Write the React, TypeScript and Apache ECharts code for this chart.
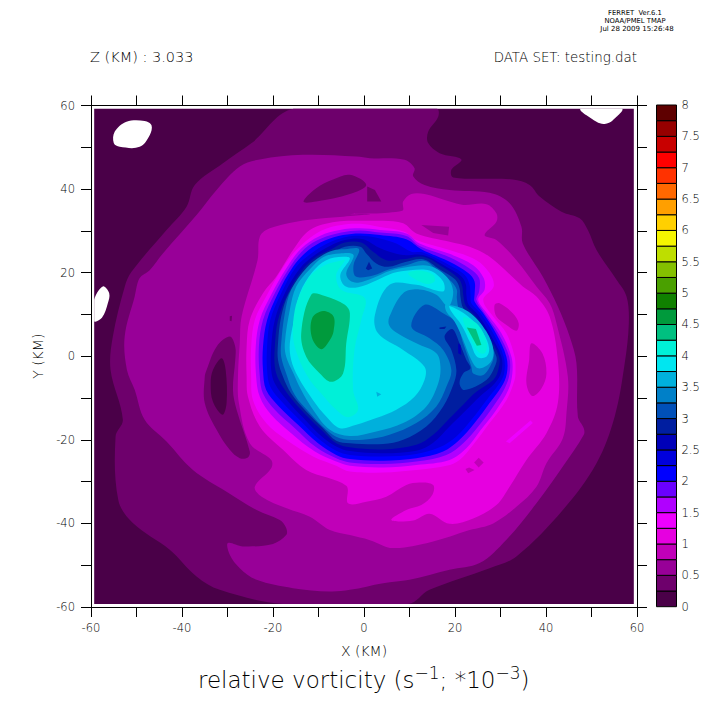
import React, { useEffect, useRef } from "react";
import * as echarts from "echarts";

type Pt = number[];

const xTicks = { min: -60, max: 60, interval: 10 };
const yTicks = { min: -60, max: 60, interval: 10 };
const barLevels = [0,0.25,0.5,0.75,1,1.25,1.5,1.75,2,2.25,2.5,2.75,3,3.25,3.5,3.75,4,4.25,4.5,4.75,5,5.25,5.5,5.75,6,6.25,6.5,6.75,7,7.25,7.5,7.75];
const barColors = ["#4a0048","#6e006c","#980098","#c000b8","#e600e0","#ee00ff","#b000ff","#6a00ff","#0000ff","#0000dc","#0000b8","#001ea0","#0050b8","#0080c8","#00b0dc","#00e6f0","#00f0d8","#00c080","#009a3c","#108000","#4aa000","#84c000","#bede00","#f5f500","#ffd000","#ff9f00","#ff6800","#ff3200","#ff0000","#c80000","#960000","#5e0000"];

// Filled-contour outlines (X km, Y km), one list per level of the field.
const frame: Pt[] = [[-59.3,59.2],[59.3,59.2],[59.3,-59.3],[-59.3,-59.3]];
const missingA: Pt[] = [[-55,51],[-54.8,53.7],[-52.2,56.1],[-48.2,56.3],[-46.7,55.3],[-47.1,52.9],[-49.3,50.1],[-53.7,50.1]];
const missingB: Pt[] = [[-59.3,13.5],[-57.4,16.7],[-56,15.1],[-56.3,12.7],[-57.6,9.2],[-59.3,8.4]];
const missingC: Pt[] = [[47.6,59.2],[51.1,56.1],[52.9,55.6],[54.7,56.5],[56.7,59.2]];

const c025: Pt[] = [[-15.5,59.2],[-24.7,51],[-31,46.2],[-37.2,41],[-39,35.8],[-43.4,30.2],[-51.1,20.2],[-52.6,16.6],[-55.2,4.7],[-55.7,-3.3],[-53,-15.2],[-54.6,-19.2],[-54,-34.4],[-50.8,-39.9],[-42.7,-46.3],[-36.8,-52.7],[-31.7,-55.9],[-17.8,-59.3],[9.7,-59.3],[14.4,-55.9],[27.6,-50.7],[33.5,-47.9],[43.7,-36.8],[51.1,-25.6],[55.1,-14.4],[57.3,-1.7],[58.2,7.9],[57.7,14.3],[55.5,18.3],[51.1,25.4],[49.2,30.2],[47.4,33],[43.4,34.6],[38.6,38.2],[36.4,41],[32.7,42.3],[19.6,42.8],[19.2,44.6],[21.4,47.1],[16.6,48.6],[14.1,51],[14.1,53.7],[16.3,57.3],[16,59.2]];

const c050: Pt[] = [[1.3,47.4],[-1.7,47.8],[-13.4,48.2],[-22.9,47.1],[-27.3,45.4],[-32.4,39.8],[-36.8,33.8],[-44.2,24.6],[-47.1,20.6],[-49.3,18.7],[-50.4,14.3],[-52.6,4.7],[-52.1,-3.3],[-50.4,-8],[-48.2,-15.2],[-43.4,-20.4],[-37.6,-27.2],[-30.2,-32.4],[-23.6,-36.8],[-18.5,-39.2],[-17.1,-41.1],[-17.1,-42.8],[-20,-44.9],[-26.6,-45.5],[-29.9,-44.7],[-29.5,-47.5],[-27.3,-50.7],[-23.6,-53.5],[-15.6,-55.5],[-7.5,-56.3],[-3.1,-55.9],[4.2,-54.3],[10,-53.5],[18.8,-51.1],[25.4,-49.5],[31.3,-43.9],[37.9,-35.2],[43.7,-26.4],[48.3,-18.8],[48.3,-17.2],[47,-14.4],[46.7,-1.7],[45.2,4.7],[42.6,11.9],[39.3,19],[34.9,27],[34.6,31],[32,36.6],[27.6,39.1],[18.8,39.8],[13.3,41],[10.8,43.1],[11.1,45],[8.9,47]];

const c075: Pt[] = [[1.3,34],[-9,33],[-14.9,32.2],[-20.7,30.6],[-22.9,28.6],[-23.4,23],[-26.9,9.5],[-27.3,3.2],[-27.7,-4.9],[-27.5,-11.2],[-25.1,-20.8],[-20.4,-24.8],[-20.4,-26.8],[-24,-31.2],[-22.5,-33.6],[-17,-36.4],[-11.9,-38.4],[-7.5,-41.6],[-3.1,-42.8],[1.3,-44],[6.4,-45.9],[15,-44.4],[23.2,-41.6],[28.4,-40],[33.5,-36],[37.9,-31.2],[40.1,-25.6],[43.7,-19.6],[44.5,-13.6],[44.8,-4.9],[42.3,7.9],[40.8,12.7],[37.9,16.7],[33.5,23],[29.1,27.8],[26.5,29],[29.1,32.2],[29.1,34.2],[26.9,36.4],[21.8,36.2],[18.8,37],[13.3,38.8],[10.4,38.8],[8.6,37],[8.4,34.8],[-3.1,34]];

const lowTop1: Pt[] = [[-13.3,37],[-10.5,40.2],[-6.8,42.3],[-3.1,43.4],[0.5,41],[-3.1,38.8],[-10.5,37]];
const lowTop2: Pt[] = [[0.7,37],[0.7,40.6],[2.4,39.8],[3.8,37]];
const lowLeft: Pt[] = [[-34.6,-3.3],[-32.4,2.3],[-29.5,4.7],[-28.3,2.3],[-28.3,-0.9],[-28.8,-8],[-28,-12.8],[-25.1,-22.8],[-25.5,-24.2],[-27.3,-24.4],[-29.5,-22.4],[-32.4,-17.6],[-35,-11.2],[-35,-4.9]];
const lowLeftCore: Pt[] = [[-33.2,-3.3],[-31.3,-0.5],[-30.4,-3.3],[-30.2,-11.2],[-31.1,-14],[-33.2,-10.9],[-33.7,-6.5]];
const lowUpper: Pt[] = [[12.6,31.4],[18.7,31],[18.5,28.9],[15.2,29.5]];
const speckLeft: Pt[] = [[-29.5,9.6],[-29,9.7],[-29.1,8.4],[-29.5,8.5]];

const c100: Pt[] = [[1.3,32.4],[-6.1,32.2],[-11.9,30.2],[-15.6,25.4],[-19.3,19],[-22.2,15.1],[-25.1,8.7],[-25.8,2.3],[-25.8,-4.9],[-25.5,-9.7],[-22.9,-16.8],[-17.8,-22.4],[-12.7,-27.2],[-3.9,-31],[-3.5,-35.2],[0.5,-34.8],[4.9,-33.6],[9.3,-30.8],[12.2,-30.2],[15.2,-30.8],[15,-33.2],[12.6,-35.6],[9.3,-36.8],[6,-39.2],[10.8,-39.3],[14.4,-37.7],[18.8,-40.1],[24,-38.8],[29.1,-35.6],[32,-31.2],[35.7,-24.8],[40.1,-18.4],[42.6,-11.2],[42.6,-0.9],[40.8,9.5],[37.9,14.3],[34.9,16.7],[27.6,23.8],[23.2,26.2],[18.8,27.4],[11.5,29.4],[8.6,31.8],[4.2,32.4]];
const lowRight: Pt[] = [[36.8,3.1],[39.2,0.7],[40.1,-4.1],[39,-7.7],[37,-9.5],[35.7,-6.5],[36.3,-0.9]];
const lowUpperRight: Pt[] = [[28.7,12.3],[29.8,12.7],[32.7,10.3],[34,7.9],[33.5,6.1],[31.3,7.5],[29.1,9.5]];
const lowDiamond: Pt[] = [[24.2,-25.4],[25.2,-24.3],[26.3,-25.4],[25.2,-26.6]];
const lowSpeck: Pt[] = [[22.3,-27],[23.1,-26.6],[24.3,-27.2],[22.9,-28]];
const streak: Pt[] = [[31.2,-20.4],[36.6,-15.4],[37.1,-16],[32,-20.8]];

const c125: Pt[] = [[3.5,30.9],[8.9,29.8],[11.5,27.8],[18.8,25.4],[24.7,23],[27.6,19.9],[28.5,16.7],[26.2,13.5],[28.4,9.5],[31.3,5.5],[33.1,-0.1],[33.3,-3.3],[33.1,-5.7],[31.3,-10.5],[27.6,-16],[24,-21.2],[21,-24.8],[18.1,-26.2],[11.5,-27.2],[4.2,-27.8],[-3.1,-27.6],[-6.1,-26.2],[-11.2,-24],[-17.1,-20],[-21.5,-16],[-24.4,-10.5],[-24.8,-4.9],[-24.8,2.3],[-24,8.7],[-21.5,14.3],[-18.2,20.6],[-14.9,25.4],[-10.5,29.4],[-6.1,31.2],[-0.9,31.7]];
const c150: Pt[] = [[3.5,30.2],[9.3,29.4],[12.2,27],[18.8,24.5],[24,21.8],[26.3,18.7],[26.5,15.9],[25.1,13.5],[27.3,9.9],[30.2,5.5],[32.4,-0.1],[32.6,-4.1],[31.7,-8.1],[29.1,-12.8],[25.4,-18],[22.5,-22],[18.8,-24.8],[11.5,-26],[4.2,-26.6],[-3.1,-26.2],[-6.1,-25.2],[-10.8,-22.8],[-16,-18.4],[-20.4,-14],[-22.9,-9.7],[-23.7,-4.9],[-23.8,2.3],[-22.9,8.7],[-20.4,14.7],[-17.1,21],[-13.8,25.8],[-9.7,28.8],[-5.3,30.2],[-0.9,30.6]];
const c175: Pt[] = [[3.5,29.6],[9.3,28.8],[12.2,26.4],[18.8,23.7],[23.2,21],[25.3,18.7],[25.3,15.5],[24.7,13.5],[26.5,10.3],[29.5,5.5],[31.9,-0.1],[32,-4.1],[30.9,-7.7],[28.4,-12],[25.1,-16.8],[21.8,-20.8],[18.1,-23.6],[11.5,-25.2],[4.2,-25.8],[-3.1,-25.4],[-6.1,-24.4],[-10.5,-21.8],[-15.2,-17.2],[-19.6,-12.8],[-22.2,-8.9],[-22.9,-4.9],[-23.1,2.3],[-22.2,8.7],[-19.6,15.1],[-16.3,21.3],[-13,25.8],[-9.4,28.2],[-5,29.6],[-0.9,30.1]];
const c200: Pt[] = [[3.5,29],[9.3,28],[12.6,25.6],[18.8,22.6],[22.9,19.9],[24.3,17.9],[24.3,14.7],[24.3,13.1],[26.2,10.3],[29,5.5],[31.3,-0.1],[31.4,-4.1],[30.2,-7.3],[27.6,-11.2],[24.3,-16],[21,-20],[17.4,-22.8],[11.5,-24.4],[4.2,-25],[-3.1,-24.6],[-6.1,-23.6],[-10.1,-20.8],[-14.5,-16.4],[-18.7,-12],[-21.5,-8.1],[-22.2,-3.3],[-22.2,2.3],[-21.3,8.7],[-18.9,15.1],[-15.6,21.4],[-12.3,25.3],[-8.6,27.7],[-4.6,29],[-0.9,29.4]];
const c225: Pt[] = [[3.5,28.2],[7.1,27],[10.4,25],[13,24.8],[18.8,21.8],[22.1,19.5],[23.2,17.1],[23.4,14.7],[23.6,12.7],[25.6,10.3],[28.4,5.5],[30.7,-0.1],[30.8,-4.1],[29.5,-6.9],[26.9,-10.5],[23.6,-15.2],[20.3,-19.2],[16.6,-21.8],[11.5,-23.4],[4.2,-24],[-3.1,-23.6],[-6.1,-22.6],[-9.7,-20],[-13.8,-15.6],[-17.8,-11.2],[-20.6,-7.3],[-21.3,-3.3],[-21.3,2.3],[-20.6,8.7],[-18.2,15.1],[-14.9,21.4],[-11.6,24.6],[-8.1,27],[-4.2,28.5],[-0.2,28.8]];
const c250: Pt[] = [[-7.5,26.4],[-4.2,27.8],[-0.2,28],[3.1,26.1],[5.6,25],[8.6,24.2],[13,24.2],[18.1,21.4],[21.4,19.1],[22.4,17.1],[22.5,14.7],[23,12.3],[25.1,9.9],[27.6,5.5],[30.2,-0.1],[30.2,-3.7],[28.7,-6.5],[25.8,-9.3],[21.8,-13.6],[18.8,-16.8],[15.2,-20.7],[11.5,-22.6],[4.2,-23.2],[-3.1,-22.7],[-6.1,-21.6],[-9.4,-19.1],[-13.3,-14.8],[-16.9,-10.5],[-19.6,-6.5],[-20.4,-3.3],[-20.4,2.3],[-19.6,8.7],[-17.4,15.1],[-14.1,21],[-10.8,24.2]];
const c275: Pt[] = [[-10.5,23.8],[-7.5,25.4],[-4.2,27.2],[-0.6,27.2],[2,25],[4.9,23],[8.6,23.2],[13,23.8],[17.4,21.3],[20.7,18.7],[21.6,16.7],[21.8,14.7],[22.4,12],[24.6,9.5],[27,5.5],[29.7,-0.1],[29.5,-3.3],[28.4,-5.7],[24.7,-8.5],[21.8,-11.6],[18.5,-15.2],[15.2,-18.8],[11.5,-21.2],[4.2,-22.3],[-3.1,-21.8],[-6.1,-20.8],[-9,-18],[-12.8,-14],[-16.3,-9.7],[-18.7,-5.7],[-19.6,-2.5],[-19.6,2.3],[-18.9,8.7],[-16.7,15.1],[-13.6,20.6]];
const c300: Pt[] = [[-18.9,3.1],[-18.2,9.5],[-16.5,15.1],[-13,20.2],[-9.9,23.4],[-7.2,24.6],[-4.2,26.2],[-0.8,26.2],[0.5,24.6],[2.7,22.2],[5.3,21.4],[8.9,22.5],[13,23.2],[16.6,20.8],[20,18.4],[21,16.3],[21.2,14.3],[21.8,11.5],[24,9.1],[26.5,5.3],[29.1,-0.1],[28.7,-2.6],[26.9,-5.7],[22.1,-8.1],[21,-6.5],[21.8,-4.1],[23.4,-2.9],[22.5,-0.9],[21,3.1],[19.4,6.5],[17.7,4.7],[19.2,1.5],[20.3,-3.3],[19.6,-6.9],[17.4,-12],[13.7,-16.8],[8.6,-20],[4.2,-21],[-3.1,-20.8],[-6.1,-20.2],[-9,-17.2],[-12.7,-13.2],[-16,-8.9],[-17.8,-4.9],[-18.9,-0.9]];
const c325: Pt[] = [[-18.2,3.1],[-17.4,10.3],[-16,15.9],[-12.5,21.3],[-9.4,24],[-6.8,25.3],[-4.2,25.6],[-1.1,25.6],[-2.3,21.8],[-1.8,19.1],[2,19.3],[5.6,20.8],[9.3,21.8],[13.3,22.8],[16.3,20.3],[19.2,17.9],[20.4,15.9],[20.4,13.9],[21,11.1],[23.4,8.7],[25.8,5.1],[28.4,0.3],[28,-1.8],[26.2,-4.5],[24,-4.1],[23.6,-2.5],[21.8,3.1],[20.3,7.9],[17.4,10.3],[13.3,12.3],[10.4,7.1],[14.4,4.3],[17.4,1.5],[19.2,-3.3],[18.1,-7.3],[15.9,-12],[11.5,-16],[5.6,-18.8],[-0.2,-20],[-5.3,-19.6],[-8.3,-17.6],[-11.9,-13.6],[-15.2,-9.3],[-17.1,-4.1],[-18.2,-0.1]];
const c350: Pt[] = [[-17.4,3.1],[-16.3,11.1],[-14.9,16.7],[-11.9,20.8],[-9,23.7],[-5.3,24.6],[-2.3,24.2],[-3.9,19.9],[-3.1,18.1],[-1.3,17.6],[2,18.7],[5.6,20.4],[9.3,21.3],[14.4,21.6],[18.1,19.1],[19.6,15.5],[18.5,11.9],[15.9,14.7],[12.2,16],[8.6,15.1],[5.6,9.5],[5.5,7.5],[7.1,5.7],[11.5,3.1],[15.9,0.7],[16.8,-2.5],[16.3,-6.5],[13.7,-12],[8.6,-16],[2.7,-18],[-3.1,-19.1],[-7.5,-17.6],[-11.2,-12.8],[-13.8,-8.1],[-15.5,-4.1],[-17.1,-0.1]];
const c350b: Pt[] = [[18,12.3],[22.9,10.7],[26.9,5.9],[28.5,1.1],[27.6,-1.7],[25.1,-2.9],[23.6,-0.9],[21.8,3.9],[19.9,8.3],[18.1,10.7]];
const c375: Pt[] = [[-16.3,3.1],[-15.2,9.5],[-14.1,15.1],[-11.3,20.2],[-8.3,23],[-4.6,23.8],[-3.1,23.4],[-5.2,19.5],[-4.2,16.8],[-1.3,16.5],[2.7,18.1],[6.4,19.9],[10.1,20.6],[14.4,20.5],[17.4,17.9],[17.4,15.5],[11.5,17.1],[5.6,17.1],[2.4,9.9],[3.1,5.5],[8.6,1.5],[13.3,-2.5],[13.3,-5.7],[11.1,-9.7],[7.1,-12.8],[2.7,-14.8],[-1.7,-16.4],[-5.3,-17.2],[-8.3,-14.4],[-11.2,-10.5],[-14.5,-4.9],[-16,-0.9]];
const c375b: Pt[] = [[18.8,12],[22.9,9.5],[26.2,5.5],[27.5,1.9],[26.9,-0.1],[24.9,-0.2],[23.4,3.1],[21.4,7.5],[19.2,10.7]];
const c400: Pt[] = [[-15.6,4.7],[-15.2,11.1],[-13.8,15.5],[-11.6,19.5],[-8.6,21.8],[-5,22.9],[-4.2,23],[-6.1,19.5],[-5,15.9],[0.2,13.9],[-0.6,8.7],[-2.1,1.5],[-2.4,-8.1],[-1.3,-12.8],[-3.5,-14.6],[-6.1,-12.8],[-9.4,-8.9],[-11.9,-5.7],[-14.5,-0.1]];
const c400b: Pt[] = [[9.7,19.9],[12.2,20.5],[15.2,19.5],[15.5,17.9],[13.7,17.3],[10.8,18.7]];
const c400c: Pt[] = [[21.8,9.3],[25.1,7.5],[27,3.1],[26.5,0.7],[25.1,1.1],[23.4,4.3]];
const c425: Pt[] = [[-11.6,14.7],[-8.6,14.4],[-4.2,12.3],[-3.1,10.3],[-3.9,3.1],[-4.6,-4.1],[-7.2,-6.1],[-9.7,-4.1],[-12.7,-0.1],[-13.8,5.5]];
const c425b: Pt[] = [[22.6,6.9],[24.6,6.5],[25.8,2.7],[24.8,2.5]];
const c450: Pt[] = [[-11.4,9.1],[-9,10.8],[-6.7,9.5],[-6.7,5.9],[-7.5,3.9],[-9.4,1.7],[-11.4,4.3]];
const dipCentre: Pt[] = [[2.7,-8.5],[3.8,-9.1],[2.9,-9.7]];
const dipNotch: Pt[] = [[0.4,21],[1.1,22.6],[1.8,21],[0.9,20.6]];
const dipRightA: Pt[] = [[16.6,6.9],[18.1,7.1],[17.7,6.5],[16.6,6.5]];
const dipRightB: Pt[] = [[20.7,3.1],[21.2,2.7],[21.4,0.3],[20.7,0.7]];

// paint order: [band lower bound (null = no data), outline]
const layers: [number | null, Pt[]][] = [
  [0, frame], [null, missingA], [null, missingB], [null, missingC],
  [0.25, c025], [0.5, c050], [0.75, c075],
  [0.25, lowTop1], [0.25, lowTop2], [0.25, lowLeft], [0.25, speckLeft], [0, lowLeftCore], [0.5, lowUpper],
  [1, c100], [0.75, lowRight], [0.75, lowUpperRight], [0.75, lowDiamond], [0.75, lowSpeck], [1.25, streak],
  [1.25, c125], [1.5, c150], [1.75, c175], [2, c200], [2.25, c225], [2.5, c250], [2.75, c275], [3, c300], [3.25, c325],
  [3.5, c350], [3.5, c350b], [3.75, c375], [3.75, c375b], [4, c400], [4, c400b], [4, c400c], [4.25, c425], [4.25, c425b], [4.5, c450],
  [3.5, dipCentre], [2.75, dipNotch], [2.75, dipRightA], [2.5, dipRightB],
];

const FONT = "DejaVu Sans";
const LIGHT = 200;

function colorOf(level: number | null) {
  if (level === null) return "#ffffff";
  return barColors[barLevels.indexOf(level)];
}

export default function App() {
  const ref = useRef<HTMLDivElement>(null);
  useEffect(() => {
    const chart = echarts.init(ref.current!, null, { renderer: "svg" });
    const tickLabelEvery20 = (v: number) => (v % 20 === 0 ? String(v) : "");
    const line = { show: true, onZero: false, lineStyle: { color: "#000", width: 1 } };
    const tick = { show: true, inside: false, length: 10, lineStyle: { color: "#000", width: 1 } };
    const label = { color: "#000", fontFamily: FONT, fontSize: 11.5, fontWeight: LIGHT };
    chart.setOption({
      animation: false,
      backgroundColor: "#fff",
      title: {
        left: 193,
        top: 659,
        text: "{a|relative vorticity (s}{b|−1}{a|; *10}{b|−3}{a|)}",
        textStyle: {
          fontWeight: LIGHT,
          rich: {
            a: { fontFamily: FONT, fontSize: 23, fontWeight: LIGHT, color: "#000", lineHeight: 32 },
            b: { fontFamily: FONT, fontSize: 17, fontWeight: LIGHT, color: "#000", lineHeight: 20, verticalAlign: "top" },
          },
        },
      },
      grid: [
        { left: 91, top: 105.5, width: 546, height: 501.5 },
        { left: 656.5, top: 105, width: 20, height: 501.7 },
      ],
      xAxis: [
        { type: "value", gridIndex: 0, position: "bottom", ...xTicks, axisLine: line, axisTick: tick, splitLine: { show: false },
          axisLabel: { ...label, margin: 15, formatter: tickLabelEvery20, hideOverlap: false },
          name: "X (KM)", nameLocation: "middle", nameGap: 37, nameTextStyle: { color: "#000", fontFamily: FONT, fontSize: 14, fontWeight: LIGHT } },
        { type: "value", gridIndex: 0, position: "top", ...xTicks, axisLine: line, axisTick: tick, splitLine: { show: false }, axisLabel: { show: false } },
        { type: "value", gridIndex: 1, min: 0, max: 1, show: false },
      ],
      yAxis: [
        { type: "value", gridIndex: 0, position: "left", ...yTicks, axisLine: line, axisTick: tick, splitLine: { show: false },
          axisLabel: { ...label, margin: 16, formatter: tickLabelEvery20 },
          name: "Y (KM)", nameLocation: "middle", nameGap: 46, nameRotate: 90, nameTextStyle: { color: "#000", fontFamily: FONT, fontSize: 14, fontWeight: LIGHT } },
        { type: "value", gridIndex: 0, position: "right", ...yTicks, axisLine: line, axisTick: tick, splitLine: { show: false }, axisLabel: { show: false } },
        { type: "value", gridIndex: 1, position: "right", min: 0, max: 8, interval: 0.5, axisLine: { show: false }, axisTick: { show: false }, splitLine: { show: false },
          axisLabel: { ...label, margin: 5 } },
      ],
      series: [
        {
          type: "custom",
          xAxisIndex: 0,
          yAxisIndex: 0,
          silent: true,
          data: layers.map((l) => [l[1][0][0], l[1][0][1]]),
          renderItem: (params: any, api: any) => {
            const [level, outline] = layers[params.dataIndex];
            const isFrame = outline === frame;
            const tl = api.coord(frame[0]);
            const br = api.coord(frame[2]);
            const shape: any = { points: outline.map((p) => api.coord(p)) };
            if (!isFrame && outline.length >= 5) {
              shape.smooth = 0.35;
              shape.smoothConstraint = [tl, br];
            }
            return {
              type: "polygon",
              shape,
              style: { fill: colorOf(level), stroke: "none" },
            };
          },
        },
        {
          type: "custom",
          xAxisIndex: 2,
          yAxisIndex: 2,
          silent: true,
          data: barLevels.map((v) => [0, v]),
          encode: { x: 0, y: 1 },
          renderItem: (params: any, api: any) => {
            const lo = api.value(1);
            const a = api.coord([0, lo]);
            const b = api.coord([1, lo + 0.25]);
            return {
              type: "rect",
              shape: { x: a[0], y: b[1], width: b[0] - a[0], height: a[1] - b[1] },
              style: { fill: barColors[params.dataIndex], stroke: "#000", lineWidth: 1 },
            };
          },
        },
      ],
      graphic: [
        { type: "text", x: 90, y: 57, style: { text: "Z (KM) : 3.033", fontFamily: FONT, fontSize: 14.5, fontWeight: LIGHT, fill: "#000", textAlign: "left", textVerticalAlign: "middle" } },
        { type: "text", x: 637, y: 57, style: { text: "DATA SET: testing.dat", fontFamily: FONT, fontSize: 13.4, fontWeight: LIGHT, fill: "#000", textAlign: "right", textVerticalAlign: "middle" } },
        { type: "text", x: 635, y: 12.5, style: { text: "FERRET  Ver.6.1", fontFamily: FONT, fontSize: 6.8, fill: "#000", textAlign: "center", textVerticalAlign: "middle" } },
        { type: "text", x: 635, y: 20.5, style: { text: "NOAA/PMEL TMAP", fontFamily: FONT, fontSize: 6.8, fill: "#000", textAlign: "center", textVerticalAlign: "middle" } },
        { type: "text", x: 637, y: 28.8, style: { text: "Jul 28 2009 15:26:48", fontFamily: FONT, fontSize: 7, fill: "#000", textAlign: "center", textVerticalAlign: "middle" } },
      ],
    });
    return () => chart.dispose();
  }, []);
  return <div ref={ref} style={{ position: "absolute", left: 0, top: 0, width: 713, height: 713 }} />;
}
